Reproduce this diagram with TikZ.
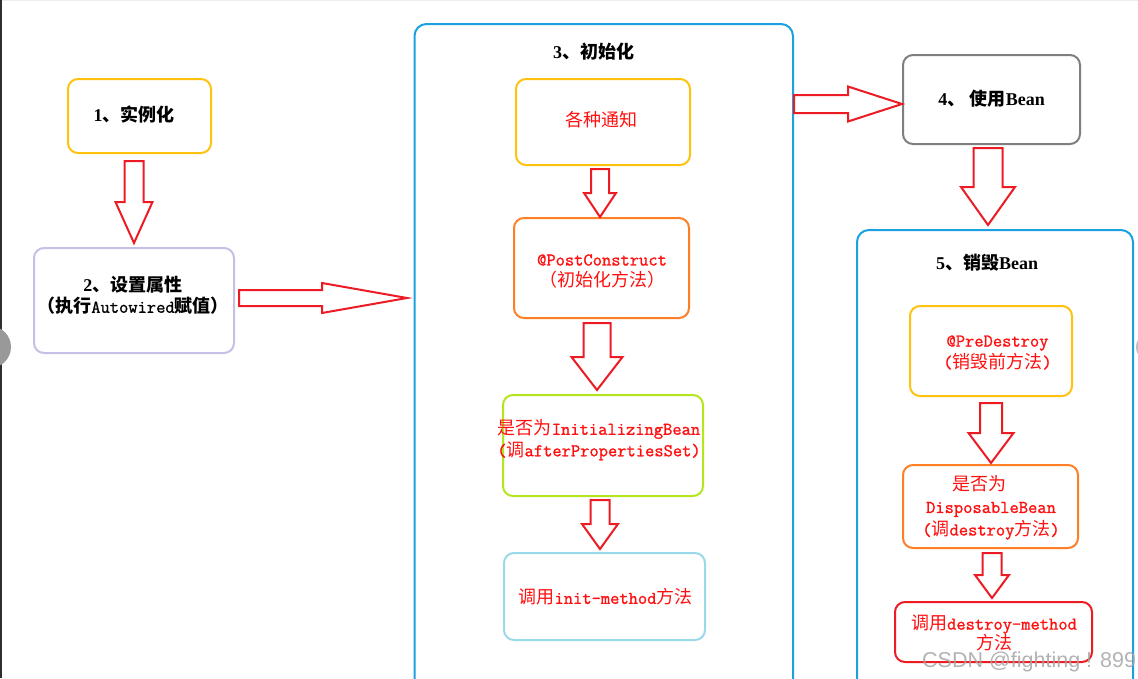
\documentclass[tikz,border=0pt]{standalone}
\usepackage{fontspec}
\setmainfont{Liberation Serif}
\newfontfamily\cjk{Noto Sans CJK SC}
\newfontfamily\wmfont{Liberation Sans}
\newfontfamily\monof[FakeBold=1.2]{Latin Modern Mono}
\usetikzlibrary{calc}
\definecolor{cyel}{HTML}{FFC20E}
\definecolor{clav}{HTML}{C8BFE7}
\definecolor{cblue}{HTML}{1BA1E2}
\definecolor{corg}{HTML}{FF7F27}
\definecolor{cgrn}{HTML}{B5E61D}
\definecolor{clbl}{HTML}{99D9EA}
\definecolor{cgry}{HTML}{7F7F7F}
\definecolor{cred}{HTML}{ED1C24}
\definecolor{ctxt}{HTML}{FF1010}
\newcommand\zh[1]{{\cjk #1}}
\newcommand\tto[1]{{\monof #1}}
\newcommand\blkdown[6]{%
  \draw[blk] (#1-#5,#2) -- (#1+#5,#2) -- (#1+#5,#3) -- (#1+#6,#3) -- (#1,#4)
    -- (#1-#6,#3) -- (#1-#5,#3) -- cycle;}
\newcommand\blkright[6]{%
  \draw[blk] (#2,#1-#5) -- (#3,#1-#5) -- (#3,#1-#6) -- (#4,#1) -- (#3,#1+#6)
    -- (#3,#1+#5) -- (#2,#1+#5) -- cycle;}
\tikzset{
  box/.style={draw=#1, line width=2pt, rounded corners=10pt, fill=white,
    inner sep=0pt, rectangle},
  cont/.style={draw=cblue, line width=2pt, rounded corners=12pt},
  blk/.style={draw=cred, line width=2pt, fill=white, line join=miter},
  rtxt/.style={text=ctxt, align=center, inner sep=0pt,
    font=\fontsize{18}{21.5}\selectfont},
  ttl/.style={text=black, align=center, inner sep=0pt,
    font=\fontsize{18}{21}\selectfont\bfseries},
}
\begin{document}
\begin{tikzpicture}[x=1pt,y=-1pt]
\useasboundingbox (0,0) rectangle (1138,678);
\begin{scope}
\clip (0,0) rectangle (1138,678);
\fill[white] (0,0) rectangle (1138,678);
% screen edges
\draw[black!7] (0,0.5) -- (1138,0.5);
\fill[black!82] (0,0) rectangle (1.6,678);
\fill[black!40] (-10,347) circle (21);
\fill[black!25] (1150,347) circle (14);

% containers
\draw[cont] (414.5,24) rectangle (793,720);
\draw[cont] (857,230) rectangle (1133,720);

% left column
\node[box=cyel, minimum width=143pt, minimum height=74pt] (b1) at (139.5,116) {};
\node[ttl] (t1) at (134,115) {1\zh{、实例化}};
\node[box=clav, minimum width=200pt, minimum height=105pt] (b2) at (134,300.5) {};
\node[ttl] (t2) at (133,295.5) {2\zh{、设置属性}\\\zh{（执行}\tto{Autowired}\zh{赋值）}};

% init container
\node[ttl] (t3) at (593.5,52) {3\zh{、初始化}};
\node[box=cyel, minimum width=174pt, minimum height=86pt] (n1) at (603,122) {};
\node[rtxt] (s1) at (601,120) {\zh{各种通知}};
\node[box=corg, minimum width=175pt, minimum height=100pt] (n2) at (601.5,268) {};
\node[rtxt] (s2) at (602,271.5) {\tto{@PostConstruct}\\\zh{（初始化方法）}};
\node[box=cgrn, minimum width=200pt, minimum height=101pt] (n3) at (603,445.5) {};
\node[rtxt] (s3) at (599,440) {\zh{是否为}\tto{InitializingBean}\\\tto{(}\zh{调}\tto{afterPropertiesSet)}};
\node[box=clbl, minimum width=201pt, minimum height=87pt] (n4) at (604.5,596.5) {};
\node[rtxt] (s4) at (605.5,597) {\zh{调用}\tto{init-method}\zh{方法}};

% use
\node[box=cgry, minimum width=177pt, minimum height=89pt] (b4) at (991.5,99.5) {};
\node[ttl] (t4) at (991.5,99) {4\zh{、} \zh{使用}Bean};

% destroy container
\node[ttl] (t5) at (987,263) {5\zh{、销毁}Bean};
\node[box=cyel, minimum width=162pt, minimum height=90pt] (d1) at (991,351) {};
\node[rtxt] (u1) at (997.5,352.5) {\tto{@PreDestroy}\\\tto{(}\zh{销毁前方法}\tto{)}};
\node[box=corg, minimum width=175pt, minimum height=83pt] (d2) at (990.5,506.5) {};
\node[rtxt, font=\fontsize{18}{22.5}\selectfont] (u2) at (991,507.5) {\zh{是否为}\hspace*{24pt}\\\tto{DisposableBean}\\\tto{(}\zh{调}\tto{destroy}\zh{方法}\tto{)}};
\node[box=cred, minimum width=197pt, minimum height=60pt] (d3) at (993.5,632) {};
\node[rtxt, font=\fontsize{18}{20}\selectfont] (u3) at (994,633) {\zh{调用}\tto{destroy-method}\\\zh{方法}};

% block arrows
\blkdown{134}{161}{202}{243}{9.5}{18.5}
\blkright{298}{239}{322}{407}{8}{15}
\blkdown{600}{169}{193}{217}{9}{16}
\blkdown{597}{323}{357}{390}{13.5}{25.5}
\blkdown{600}{500}{524}{549}{9.5}{18}
\blkright{104}{794}{848}{902}{9}{17.5}
\blkdown{988}{148}{187}{225}{14.5}{27}
\blkdown{991}{403}{433}{463}{11}{22.5}
\blkdown{992}{553}{575}{598}{9.5}{17}

% watermark
\node[font=\wmfont\fontsize{21.5}{22}\selectfont, text=black!35, opacity=0.85,
  anchor=base west, inner sep=0pt] (wm) at (922,667) {CSDN @fighting ! 899};
\end{scope}
\end{tikzpicture}
\end{document}
